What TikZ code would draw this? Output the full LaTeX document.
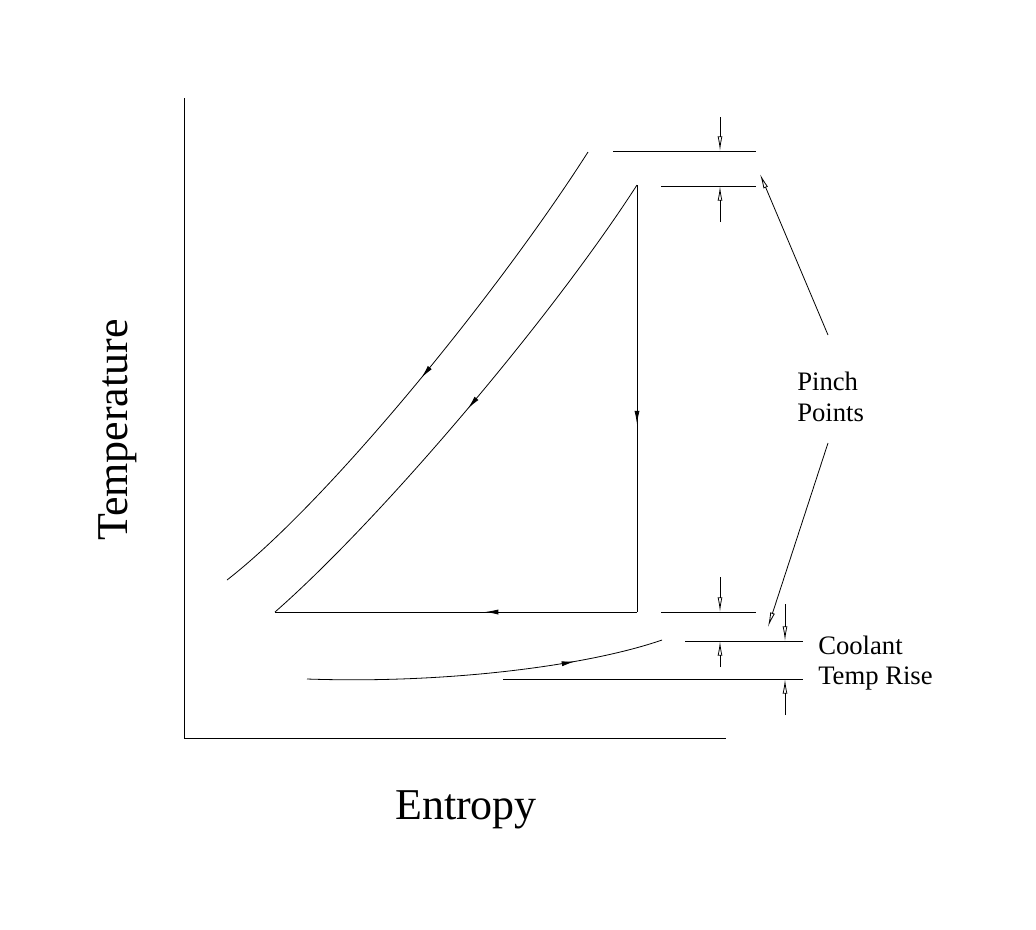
\documentclass[tikz,border=0pt]{standalone}
\usepackage{fontspec}
\setmainfont{Liberation Serif}
\usetikzlibrary{arrows.meta,decorations.markings}

\tikzset{
  thin line/.style={line width=0.6pt},
  dim/.style={thin line,-{Latex[open,length=11pt,width=3.6pt]}},
  midarrow/.style={thin line,decoration={markings,
      mark=at position #1 with {\arrow{Latex[length=10pt,width=3.8pt]}}},postaction={decorate}},
  label/.style={font=\fontsize{20}{23}\selectfont,align=left,inner sep=0pt},
  axislabel/.style={font=\fontsize{33}{36}\selectfont,inner sep=0pt}
}

\begin{document}
\begin{tikzpicture}[x=0.75pt,y=-0.75pt]
  \useasboundingbox (0,0) rectangle (1036,929);

  % axes
  \coordinate (top) at (184,98);
  \coordinate (origin) at (184,738);
  \coordinate (right) at (726,738);
  \draw[thin line] (top) -- (origin) -- (right);
  \node[axislabel,rotate=90] (temp) at (118,430) {Temperature};
  \node[axislabel] (entropy) at (466,810) {Entropy};

  % cycle
  \coordinate (a) at (227,580);
  \coordinate (b) at (588,152);
  \coordinate (c) at (637,185);
  \coordinate (d) at (637,612);
  \coordinate (e) at (275,612);
  \draw[midarrow=0.5] (b) .. controls (500,290) and (330,500) .. (a);
  \draw[midarrow=0.5] (c) .. controls (550,320) and (380,520) .. (e);
  \draw[midarrow=0.56] (c) -- (d);
  \draw[midarrow=0.42] (d) -- (e);

  % coolant
  \coordinate (f) at (307,679);
  \coordinate (g) at (662,640);
  \draw[midarrow=0.75] (f) .. controls (450,684) and (590,665) .. (g);

  % reference lines
  \coordinate (t1a) at (613,151);  \coordinate (t1b) at (756,151);
  \coordinate (t2a) at (661,186);  \coordinate (t2b) at (756,186);
  \coordinate (b1a) at (661,612);  \coordinate (b1b) at (756,612);
  \coordinate (b2a) at (685,641);  \coordinate (b2b) at (803,641);
  \coordinate (b3a) at (503,679);  \coordinate (b3b) at (803,679);
  \foreach \p in {t1,t2,b1,b2,b3}
    \draw[thin line] (\p a) -- (\p b);

  % dimension arrows
  \coordinate (dt1) at (720,117); \coordinate (dt1e) at (720,151);
  \coordinate (dt2) at (720,222); \coordinate (dt2e) at (720,186);
  \coordinate (db1) at (720,577); \coordinate (db1e) at (720,612);
  \coordinate (db2) at (720,667); \coordinate (db2e) at (720,641);
  \coordinate (dc1) at (785,604); \coordinate (dc1e) at (785,641);
  \coordinate (dc2) at (785,715); \coordinate (dc2e) at (785,679);
  \foreach \p in {dt1,dt2,db1,db2,dc1,dc2}
    \draw[dim] (\p) -- (\p e);

  % labels
  \node[label,anchor=west] (pinch) at (797,397) {Pinch\\Points};
  \node[label,anchor=west] (coolant) at (818,663) {Coolant\\Temp Rise};
  \coordinate (p1) at (760,174);
  \coordinate (p2) at (768,627);
  \draw[dim] (828,335) -- (p1);
  \draw[dim] (828,443) -- (p2);
\end{tikzpicture}
\end{document}
